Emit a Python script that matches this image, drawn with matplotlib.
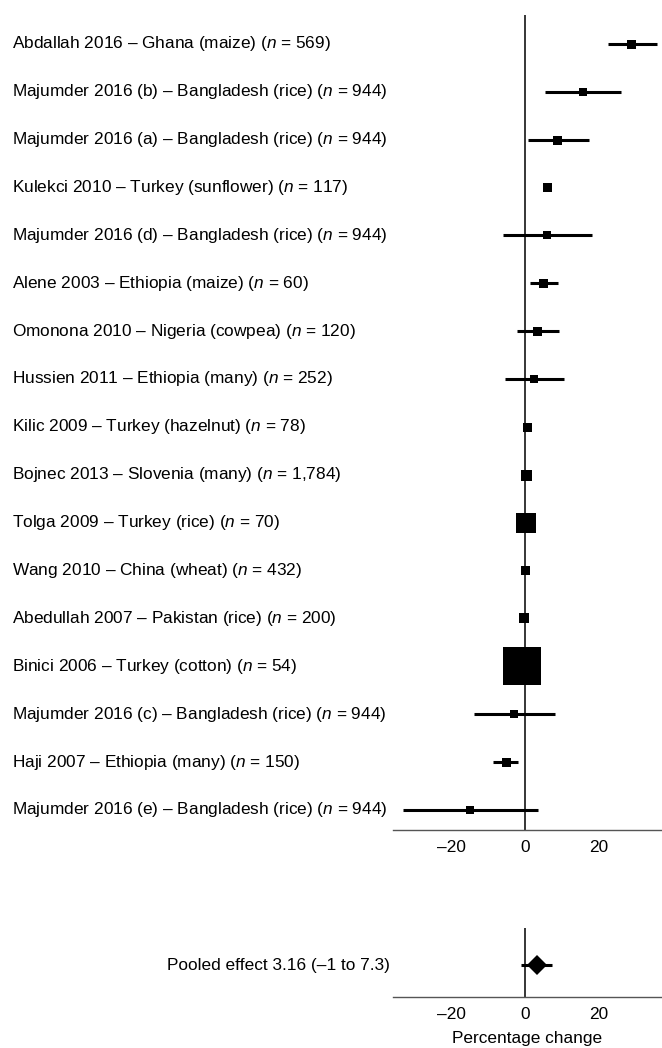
import matplotlib
matplotlib.use("Agg")
import matplotlib.pyplot as plt
import matplotlib.transforms as mtransforms

plt.rcParams['font.family'] = ['Liberation Sans', 'DejaVu Sans']
plt.rcParams['mathtext.fontset'] = 'custom'
plt.rcParams['mathtext.rm'] = 'Liberation Sans'
plt.rcParams['mathtext.it'] = 'Liberation Sans:italic'

studies = [
    "Abdallah 2016 – Ghana (maize)",
    "Majumder 2016 (b) – Bangladesh (rice)",
    "Majumder 2016 (a) – Bangladesh (rice)",
    "Kulekci 2010 – Turkey (sunflower)",
    "Majumder 2016 (d) – Bangladesh (rice)",
    "Alene 2003 – Ethiopia (maize)",
    "Omonona 2010 – Nigeria (cowpea)",
    "Hussien 2011 – Ethiopia (many)",
    "Kilic 2009 – Turkey (hazelnut)",
    "Bojnec 2013 – Slovenia (many)",
    "Tolga 2009 – Turkey (rice)",
    "Wang 2010 – China (wheat)",
    "Abedullah 2007 – Pakistan (rice)",
    "Binici 2006 – Turkey (cotton)",
    "Majumder 2016 (c) – Bangladesh (rice)",
    "Haji 2007 – Ethiopia (many)",
    "Majumder 2016 (e) – Bangladesh (rice)",
]
sample_n = ["569", "944", "944", "117", "944", "60", "120", "252", "78",
            "1,784", "70", "432", "200", "54", "944", "150", "944"]
effect = [28.7, 15.6, 8.7, 6.0, 5.8, 4.9, 3.3, 2.4, 0.6, 0.3, 0.3, 0.1,
          -0.3, -0.8, -3.1, -5.2, -15.0]
ci_low = [22.4, 5.4, 0.7, 5.0, -5.9, 1.3, -2.2, -5.4, 0.0, -0.5, -1.0, -0.5,
          -1.2, -2.0, -13.7, -8.6, -33.0]
ci_high = [35.6, 26.0, 17.3, 7.0, 18.2, 9.0, 9.1, 10.4, 1.2, 1.1, 1.6, 0.7,
           0.6, 0.4, 8.0, -2.0, 3.5]
weight_px = [9, 8, 9, 9, 8, 9, 9, 8, 9, 11, 20, 9, 10, 38, 8, 9, 8]

pooled_effect = 3.16
pooled_low = -1.0
pooled_high = 7.3
pooled_label = "Pooled effect 3.16 (–1 to 7.3)"

xticks = [-20, 0, 20]
xticklabels = ["–20", "0", "20"]
xlabel = "Percentage change"

W, H = 662, 1048
fig = plt.figure(figsize=(W / 100, H / 100), dpi=100)
left = 393 / W
ax = fig.add_axes([left, 1 - 830 / H, 1 - left, (830 - 15) / H])
ax2 = fig.add_axes([left, 1 - 997 / H, 1 - left, (997 - 928) / H])

XLIM = (-35.7, 37.0)
FS = 12.4
LW = 2.2
n = len(studies)
ys = [n - 1 - i for i in range(n)]

ax.axvline(0, color='black', lw=1.1, zorder=1)
for y, e, lo, hi, w in zip(ys, effect, ci_low, ci_high, weight_px):
    ax.plot([lo, hi], [y, y], color='black', lw=LW, solid_capstyle='butt', zorder=2)
    ax.plot([e], [y], marker='s', ms=w * 0.72, color='black', mew=0, zorder=3)

trans = mtransforms.blended_transform_factory(fig.transFigure, ax.transData)
for y, s, nn in zip(ys, studies, sample_n):
    ax.text(12 / W, y, f"{s} ($n$ = {nn})", transform=trans, ha='left',
            va='center', fontsize=FS)

ax.set_xlim(*XLIM)
ax.set_ylim(-0.42, 16.6)
ax.set_yticks([])

ax2.axvline(0, color='black', lw=1.1, zorder=1)
py = 0.46
ax2.plot([pooled_low, pooled_high], [py, py], color='black', lw=LW,
         solid_capstyle='butt', zorder=2)
ax2.plot([pooled_effect], [py], marker='D', ms=10, color='black', mew=0, zorder=3)
ax2.set_xlim(*XLIM)
ax2.set_ylim(0, 1)
ax2.set_yticks([])
trans2 = mtransforms.blended_transform_factory(fig.transFigure, ax2.transData)
ax2.text(390 / W, py, pooled_label, transform=trans2, ha='right', va='center',
         fontsize=FS)
ax2.set_xlabel(xlabel, fontsize=FS, labelpad=7)

for a in (ax, ax2):
    for sp in ('left', 'right', 'top'):
        a.spines[sp].set_visible(False)
    a.spines['bottom'].set_color('#555555')
    a.spines['bottom'].set_linewidth(1.0)
    a.set_xticks(xticks)
    a.set_xticklabels(xticklabels, fontsize=FS)
    a.tick_params(axis='x', length=0, pad=7)

fig.savefig("out.png", dpi=100)
